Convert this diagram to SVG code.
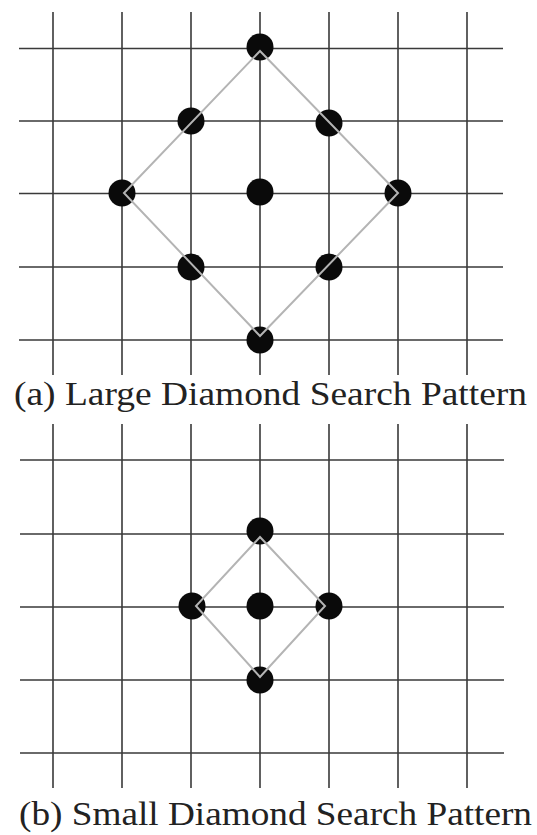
<svg xmlns="http://www.w3.org/2000/svg" width="537" height="835" viewBox="0 0 537 835">
<style>
.g{stroke:#3a3a3a;stroke-width:1.6;fill:none}
.d{fill:#0a0a0a}
.dia{stroke:#b4b4b4;stroke-width:2;fill:none;stroke-linejoin:miter}
.t{font-family:"Liberation Serif","DejaVu Serif",serif;font-size:34px;fill:#222}
</style>
<rect width="537" height="835" fill="#fff"/>
<g id="gridA">
<path class="g" d="M53 12V375M122 12V375M191 12V375M260 12V375M329 12V375M398 12V375M467 12V375"/>
<path class="g" d="M19 48.5H503M19 121H503M19 193.5H503M19 267H503M19 340H503"/>
</g>
<g id="nodesA">
<g id="a_top"><circle class="d" cx="260" cy="47" r="13.5"/></g>
<g id="a_ul"><circle class="d" cx="191" cy="121" r="13.5"/></g>
<g id="a_ur"><circle class="d" cx="329" cy="123" r="13.5"/></g>
<g id="a_left"><circle class="d" cx="122" cy="193" r="13.5"/></g>
<g id="a_center"><circle class="d" cx="260" cy="192" r="13.5"/></g>
<g id="a_right"><circle class="d" cx="398" cy="193" r="13.5"/></g>
<g id="a_ll"><circle class="d" cx="191" cy="267" r="13.5"/></g>
<g id="a_lr"><circle class="d" cx="329" cy="267" r="13.5"/></g>
<g id="a_bottom"><circle class="d" cx="260" cy="340" r="13.5"/></g>
</g>
<g id="connectorsA">
<path class="dia" d="M260 51L398 193L260 336L124 193Z"/>
</g>
<text class="t" x="14" y="405" textLength="513" lengthAdjust="spacingAndGlyphs">(a) Large Diamond Search Pattern</text>
<g id="gridB">
<path class="g" d="M53 424V788M122 424V788M191 424V788M260 424V788M329 424V788M398 424V788M467 424V788"/>
<path class="g" d="M20 460H504M20 534H504M20 607H504M20 680H504M20 753H504"/>
</g>
<g id="nodesB">
<g id="b_top"><circle class="d" cx="260" cy="531" r="13.5"/></g>
<g id="b_left"><circle class="d" cx="192" cy="606" r="13.5"/></g>
<g id="b_center"><circle class="d" cx="260" cy="606" r="13.5"/></g>
<g id="b_right"><circle class="d" cx="329" cy="606" r="13.5"/></g>
<g id="b_bottom"><circle class="d" cx="260" cy="680" r="13.5"/></g>
</g>
<g id="connectorsB">
<path class="dia" d="M260 537L325 606L260 677L196 606Z"/>
</g>
<text class="t" x="19" y="825" textLength="513" lengthAdjust="spacingAndGlyphs">(b) Small Diamond Search Pattern</text>
</svg>
